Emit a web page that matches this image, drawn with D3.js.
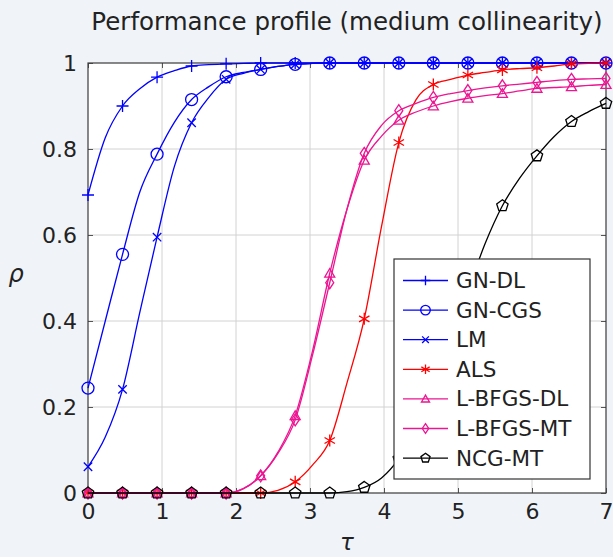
<!DOCTYPE html>
<html><head><meta charset="utf-8">
<script src="https://cdn.jsdelivr.net/npm/d3@7"></script>
<style>
body{margin:0;background:#f0f4f9;}
svg{display:block;}
</style></head><body>
<svg id="c" width="613" height="557"></svg>
<script>
// ---------- data ----------
const titleText = "Performance profile (medium collinearity)";
const tau = [0, 0.2333, 0.4667, 0.7, 0.9333, 1.1667, 1.4, 1.6333, 1.8667, 2.1, 2.3333,
  2.5667, 2.8, 3.0333, 3.2667, 3.5, 3.7333, 3.9667, 4.2, 4.4333, 4.6667, 4.9, 5.1333,
  5.3667, 5.6, 5.8333, 6.0667, 6.3, 6.5333, 6.7667, 7];
const xTicks = [0, 1, 2, 3, 4, 5, 6, 7];
const yTicks = [0, 0.2, 0.4, 0.6, 0.8, 1];
const yTickLabels = ["0", "0.2", "0.4", "0.6", "0.8", "1"];
const names = ["GN-DL", "GN-CGS", "LM", "ALS", "L-BFGS-DL", "L-BFGS-MT", "NCG-MT"];
const gnDL   = [0.693,0.826,0.900,0.940,0.967,0.982,0.993,0.996,0.998,0.999,1,1,1,1,1,1,1,1,1,1,1,1,1,1,1,1,1,1,1,1,1];
const gnCGS  = [0.244,0.400,0.555,0.700,0.788,0.862,0.915,0.945,0.968,0.978,0.985,0.992,0.997,0.999,1,1,1,1,1,1,1,1,1,1,1,1,1,1,1,1,1];
const lm     = [0.061,0.130,0.241,0.420,0.595,0.759,0.861,0.920,0.962,0.976,0.985,0.992,0.997,0.999,1,1,1,1,1,1,1,1,1,1,1,1,1,1,1,1,1];
const als    = [0,0,0,0,0,0,0,0,0,0,0,0.006,0.026,0.065,0.122,0.256,0.405,0.620,0.815,0.915,0.950,0.962,0.972,0.978,0.984,0.987,0.989,0.993,0.998,0.999,1.0];
const lbfgsDL= [0,0,0,0,0,0,0,0,0,0.010,0.040,0.095,0.180,0.330,0.511,0.660,0.774,0.830,0.867,0.886,0.900,0.910,0.918,0.924,0.929,0.935,0.941,0.943,0.945,0.948,0.950];
const lbfgsMT= [0,0,0,0,0,0,0,0,0,0.010,0.040,0.092,0.170,0.320,0.489,0.660,0.790,0.855,0.889,0.906,0.920,0.929,0.936,0.942,0.947,0.951,0.955,0.959,0.962,0.963,0.964];
const ncgMT  = [0,0,0,0,0,0,0,0,0,0,0,0,0,0,0,0.003,0.013,0.035,0.080,0.150,0.240,0.350,0.470,0.580,0.668,0.732,0.784,0.829,0.864,0.887,0.906];
const values = [gnDL, gnCGS, lm, als, lbfgsDL, lbfgsMT, ncgMT];
const colors = ["#0000ff","#0000ff","#0000ff","#ff0000","#ec1592","#ec1592","#000000"];
const markers = ["plus","circle","cross","asterisk","triangle","diamond","pentagon"];
const markEvery = 2;

// ---------- layout ----------
const svg = d3.select("#c");
const M = {left: 88, right: 606, top: 63, bottom: 493};
const x = d3.scaleLinear().domain([0, 7]).range([M.left, M.right]);
const y = d3.scaleLinear().domain([0, 1]).range([M.bottom, M.top]);
const FONT = "DejaVu Sans, sans-serif";

svg.append("rect").attr("x", M.left).attr("y", M.top)
  .attr("width", M.right - M.left).attr("height", M.bottom - M.top).attr("fill", "#fff");

// grid
const gGrid = svg.append("g").attr("stroke", "#d2d2d2").attr("stroke-width", 1);
gGrid.selectAll("line.v").data(xTicks.slice(1, -1)).join("line")
  .attr("x1", d => x(d)).attr("x2", d => x(d)).attr("y1", M.top).attr("y2", M.bottom);
gGrid.selectAll("line.h").data(yTicks.slice(1, -1)).join("line")
  .attr("y1", d => y(d)).attr("y2", d => y(d)).attr("x1", M.left).attr("x2", M.right);

// axes
const tickStyle = g => {
  g.select(".domain").remove();
  g.selectAll(".tick line").attr("stroke", "#555");
  g.selectAll(".tick text").attr("font-family", FONT).attr("font-size", 22).attr("fill", "#222");
};
svg.append("g").attr("transform", `translate(0,${M.bottom})`)
  .call(d3.axisBottom(x).tickValues(xTicks).tickFormat(d3.format("d")).tickSizeInner(-5).tickPadding(10))
  .call(tickStyle);
svg.append("g").attr("transform", `translate(0,${M.top})`)
  .call(d3.axisTop(x).tickValues(xTicks).tickFormat("").tickSizeInner(-5))
  .call(tickStyle);
svg.append("g").attr("transform", `translate(${M.left},0)`)
  .call(d3.axisLeft(y).tickValues(yTicks).tickFormat((d, i) => yTickLabels[i]).tickSizeInner(-5).tickPadding(11))
  .call(tickStyle);
svg.append("g").attr("transform", `translate(${M.right},0)`)
  .call(d3.axisRight(y).tickValues(yTicks).tickFormat("").tickSizeInner(-5))
  .call(tickStyle);
svg.append("rect").attr("x", M.left).attr("y", M.top)
  .attr("width", M.right - M.left).attr("height", M.bottom - M.top)
  .attr("fill", "none").attr("stroke", "#3a3a3a").attr("stroke-width", 1.2);

// marker paths
function markerPath(type, s) {
  const p = d3.path();
  if (type === "plus") { p.moveTo(-6*s,0); p.lineTo(6*s,0); p.moveTo(0,-6*s); p.lineTo(0,6*s); }
  else if (type === "cross") { const a = 4.2*s; p.moveTo(-a,-a); p.lineTo(a,a); p.moveTo(-a,a); p.lineTo(a,-a); }
  else if (type === "asterisk") {
    const r = 6*s;
    for (const ang of [90, 30, 150]) { const t = ang*Math.PI/180; p.moveTo(-r*Math.cos(t), -r*Math.sin(t)); p.lineTo(r*Math.cos(t), r*Math.sin(t)); }
  }
  else if (type === "circle") { p.arc(0, 0, 6*s, 0, 2*Math.PI); p.closePath(); }
  else if (type === "triangle") {
    const r = 5.8*s;
    for (let i = 0; i < 3; i++) { const t = -Math.PI/2 + i*2*Math.PI/3; i ? p.lineTo(r*Math.cos(t), r*Math.sin(t)+1*s) : p.moveTo(r*Math.cos(t), r*Math.sin(t)+1*s); }
    p.closePath();
  }
  else if (type === "diamond") { p.moveTo(0,-6*s); p.lineTo(4*s,0); p.lineTo(0,6*s); p.lineTo(-4*s,0); p.closePath(); }
  else if (type === "pentagon") {
    const r = 6*s;
    for (let i = 0; i < 5; i++) { const t = -Math.PI/2 + i*2*Math.PI/5; i ? p.lineTo(r*Math.cos(t), r*Math.sin(t)) : p.moveTo(r*Math.cos(t), r*Math.sin(t)); }
    p.closePath();
  }
  return p.toString();
}

// series
const line = d3.line().x(d => x(d[0])).y(d => y(d[1])).curve(d3.curveMonotoneX);
names.forEach((name, k) => {
  const pts = tau.map((t, i) => [t, values[k][i]]);
  const g = svg.append("g");
  g.append("path").attr("d", line(pts)).attr("fill", "none")
    .attr("stroke", colors[k]).attr("stroke-width", 1.3);
  g.selectAll("path.m").data(pts.filter((d, i) => i % markEvery === 0)).join("path")
    .attr("class", "m")
    .attr("transform", d => `translate(${x(d[0])},${y(d[1])})`)
    .attr("d", markerPath(markers[k], 1))
    .attr("fill", "none").attr("stroke", colors[k]).attr("stroke-width", 1.3);
});

// legend
const L = {x: 394, y: 259, w: 196, h: 220, row0: 280.5, dy: 29.6};
const lg = svg.append("g");
lg.append("rect").attr("x", L.x).attr("y", L.y).attr("width", L.w).attr("height", L.h)
  .attr("fill", "#fff").attr("stroke", "#333").attr("stroke-width", 1.2);
names.forEach((name, k) => {
  const cy = L.row0 + k * L.dy;
  lg.append("line").attr("x1", L.x + 9).attr("x2", L.x + 54).attr("y1", cy).attr("y2", cy)
    .attr("stroke", colors[k]).attr("stroke-width", 1.3);
  lg.append("path").attr("transform", `translate(${L.x + 31.5},${cy})`)
    .attr("d", markerPath(markers[k], 0.8)).attr("fill", "none")
    .attr("stroke", colors[k]).attr("stroke-width", 1.3);
  lg.append("text").attr("x", L.x + 62).attr("y", cy + 7.5)
    .attr("font-family", FONT).attr("font-size", 21.5).attr("fill", "#222").text(name);
});

// title & axis labels
svg.append("text").attr("x", (M.left + M.right) / 2).attr("y", 30).attr("text-anchor", "middle")
  .attr("font-family", FONT).attr("font-size", 24.5).attr("fill", "#222").text(titleText);
svg.append("text").attr("x", 347).attr("y", 550).attr("text-anchor", "middle")
  .attr("font-family", FONT).attr("font-style", "italic").attr("font-size", 23).attr("fill", "#222").text("τ");
svg.append("text").attr("x", 16).attr("y", 282).attr("text-anchor", "middle")
  .attr("font-family", FONT).attr("font-style", "italic").attr("font-size", 24).attr("fill", "#222").text("ρ");
</script>
</body></html>
